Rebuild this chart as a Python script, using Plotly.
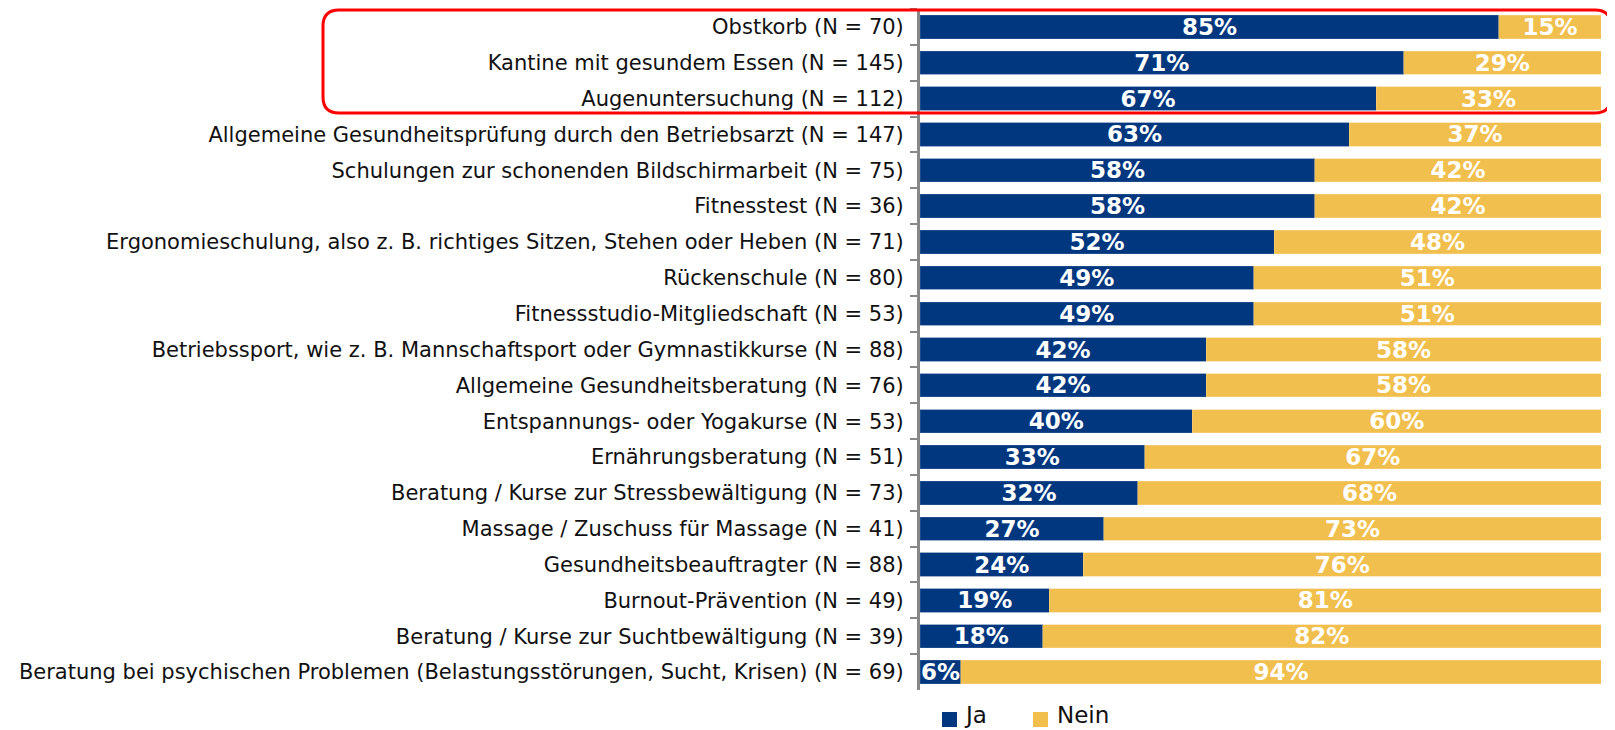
import plotly.graph_objects as go

categories = [
    "Obstkorb (N = 70)",
    "Kantine mit gesundem Essen (N = 145)",
    "Augenuntersuchung (N = 112)",
    "Allgemeine Gesundheitsprüfung durch den Betriebsarzt (N = 147)",
    "Schulungen zur schonenden Bildschirmarbeit (N = 75)",
    "Fitnesstest (N = 36)",
    "Ergonomieschulung, also z. B. richtiges Sitzen, Stehen oder Heben (N = 71)",
    "Rückenschule (N = 80)",
    "Fitnessstudio-Mitgliedschaft (N = 53)",
    "Betriebssport, wie z. B. Mannschaftsport oder Gymnastikkurse (N = 88)",
    "Allgemeine Gesundheitsberatung (N = 76)",
    "Entspannungs- oder Yogakurse (N = 53)",
    "Ernährungsberatung (N = 51)",
    "Beratung / Kurse zur Stressbewältigung (N = 73)",
    "Massage / Zuschuss für Massage (N = 41)",
    "Gesundheitsbeauftragter (N = 88)",
    "Burnout-Prävention (N = 49)",
    "Beratung / Kurse zur Suchtbewältigung (N = 39)",
    "Beratung bei psychischen Problemen (Belastungsstörungen, Sucht, Krisen) (N = 69)",
]
ja = [85, 71, 67, 63, 58, 58, 52, 49, 49, 42, 42, 40, 33, 32, 27, 24, 19, 18, 6]
nein = [15, 29, 33, 37, 42, 42, 48, 51, 51, 58, 58, 60, 67, 68, 73, 76, 81, 82, 94]
series_names = ["Ja", "Nein"]

# page is offset by the 8px body margin
OFF = 8
W, H = 1607, 722
L, R, T, B = 912, 14, 1, 40
PW, PH = W - L - R, H - T - B

NAVY = "#00377F"
GOLD = "#F1BF4D"
BAR_FONT = dict(family="DejaVu Sans", size=23, color="white", weight="bold")

fig = go.Figure()
for name, vals, col, edge in [(series_names[0], ja, NAVY, "#3A5F9A"),
                              (series_names[1], nein, GOLD, "#F6D48A")]:
    fig.add_trace(go.Bar(
        y=categories, x=vals, name=name, orientation="h",
        marker=dict(color=col, line=dict(color=edge, width=0.5)),
        text=[f"{v}%" for v in vals], textposition="inside", insidetextanchor="middle",
        textfont=BAR_FONT, showlegend=False,
    ))


def px(x):
    return (x - OFF - L) / PW


def py(y):
    return (H - B - (y - OFF)) / PH


# rounded highlight rectangle (page-pixel geometry converted to paper coords)
x0, x1, y0, y1, r = 323, 1611, 10, 113, 16
path = (
    f"M {px(x0 + r)},{py(y0)} L {px(x1 - r)},{py(y0)} "
    f"Q {px(x1)},{py(y0)} {px(x1)},{py(y0 + r)} "
    f"L {px(x1)},{py(y1 - r)} Q {px(x1)},{py(y1)} {px(x1 - r)},{py(y1)} "
    f"L {px(x0 + r)},{py(y1)} Q {px(x0)},{py(y1)} {px(x0)},{py(y1 - r)} "
    f"L {px(x0)},{py(y0 + r)} Q {px(x0)},{py(y0)} {px(x0 + r)},{py(y0)} Z"
)
fig.add_shape(type="path", path=path, xref="paper", yref="paper",
              line=dict(color="#FF0000", width=3), layer="above")

# legend drawn manually (larger square symbols as in the reference)
for name, col, sx, tx in [(series_names[0], NAVY, 942, 962), (series_names[1], GOLD, 1033, 1055)]:
    fig.add_shape(type="rect", xref="paper", yref="paper",
                  x0=px(sx), x1=px(sx + 15), y0=py(727), y1=py(712),
                  fillcolor=col, line=dict(width=0))
    fig.add_annotation(text=name, xref="paper", yref="paper", x=px(tx), y=py(715),
                       xanchor="left", yanchor="middle", showarrow=False,
                       font=dict(family="DejaVu Sans", size=23, color="#111111"))

fig.update_layout(
    width=W, height=H,
    barmode="stack", bargap=0.35,
    plot_bgcolor="white", paper_bgcolor="white",
    margin=dict(l=L, r=R, t=T, b=B, autoexpand=False),
    font=dict(family="DejaVu Sans", size=21, color="#111111"),
    uniformtext=dict(minsize=23, mode="show"),
    showlegend=False,
    xaxis=dict(range=[0, 100], showgrid=False, showticklabels=False, zeroline=False,
               showline=False, fixedrange=True),
    yaxis=dict(autorange="reversed", showgrid=False, showline=True, linecolor="#888888",
               linewidth=3, ticks="outside", tickson="boundaries", ticklen=7,
               tickwidth=2, tickcolor="#888888", ticklabelstandoff=9,
               tickfont=dict(family="DejaVu Sans", size=21, color="#111111")),
)

fig.write_html("out.html")
